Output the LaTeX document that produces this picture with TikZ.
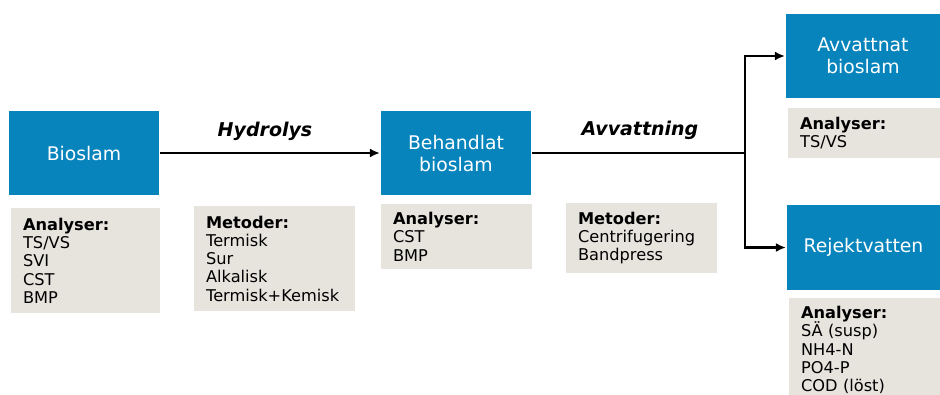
\documentclass[tikz,border=0pt]{standalone}
\usepackage{fontspec}
\setmainfont{DejaVu Sans}
\usepackage{tikz}
\usetikzlibrary{arrows.meta}

\definecolor{slamblue}{HTML}{0784BC}
\definecolor{infogray}{HTML}{E7E4DE}

\begin{document}
\begin{tikzpicture}[x=1pt, y=-1pt, line width=2.2pt,
    stepbox/.style={fill=slamblue, text=white, align=center,
      font=\fontsize{18.8}{22}\selectfont, inner sep=0pt},
    infobox/.style={fill=infogray, anchor=north west, align=left,
      font=\fontsize{16.2}{18.3}\selectfont, inner xsep=12pt, inner ysep=0pt},
    flowlabel/.style={font=\fontsize{19}{22}\selectfont\bfseries\itshape},
    flow/.style={-{Latex[length=10pt,width=9pt]}}]
    %---- canvas
    \useasboundingbox (0,0) rectangle (940,394);
    \clip (0,0) rectangle (940,394);

    %---- parameters
    \def\ya{153}  % height of the main line
    \def\xs{745}  % where the line splits

    %---- process boxes
    \node[stepbox, minimum width=150pt, minimum height=84pt] (bio) at (84,153) {Bioslam};
    \node[stepbox, minimum width=150pt, minimum height=84pt] (beh) at (456,153) {Behandlat\\bioslam};
    \node[stepbox, minimum width=154pt, minimum height=84pt] (avv) at (863,56) {Avvattnat\\bioslam};
    \node[stepbox, minimum width=153pt, minimum height=85pt] (rej) at (863.5,247.5) {Rejektvatten};

    %---- grey boxes with analyses / methods
    \node[infobox, text width=125pt, minimum height=105pt] (ana1) at (10,207)
      {\textbf{Analyser:}\\TS/VS\\SVI\\CST\\BMP};
    \node[infobox, text width=137pt, minimum height=105pt] (met1) at (193,205)
      {\textbf{Metoder:}\\Termisk\\Sur\\Alkalisk\\Termisk+Kemisk};
    \node[infobox, text width=127pt, minimum height=65pt] (ana2) at (380,203)
      {\textbf{Analyser:}\\CST\\BMP};
    \node[infobox, text width=127pt, minimum height=70pt] (met2) at (565,202)
      {\textbf{Metoder:}\\Centrifugering\\Bandpress};
    \node[infobox, text width=129pt, minimum height=50pt] (ana3) at (787,107)
      {\textbf{Analyser:}\\TS/VS};
    \node[infobox, text width=138pt, inner ysep=8pt] (ana4) at (788,297)
      {\textbf{Analyser:}\\SÄ (susp)\\NH4-N\\PO4-P\\COD (löst)};

    %---- labels over the arrows
    \node[flowlabel] (hyd) at (265,131) {Hydrolys};
    \node[flowlabel] (avvl) at (640,130) {Avvattning};

    %---- connectors
    \coordinate (split) at (\xs,\ya);
    \draw[flow] (bio) -- (beh);
    \draw (beh) -- (split);
    \draw[flow] (split) |- (avv);
    \draw[flow] (split) |- (rej);
\end{tikzpicture}
\end{document}
